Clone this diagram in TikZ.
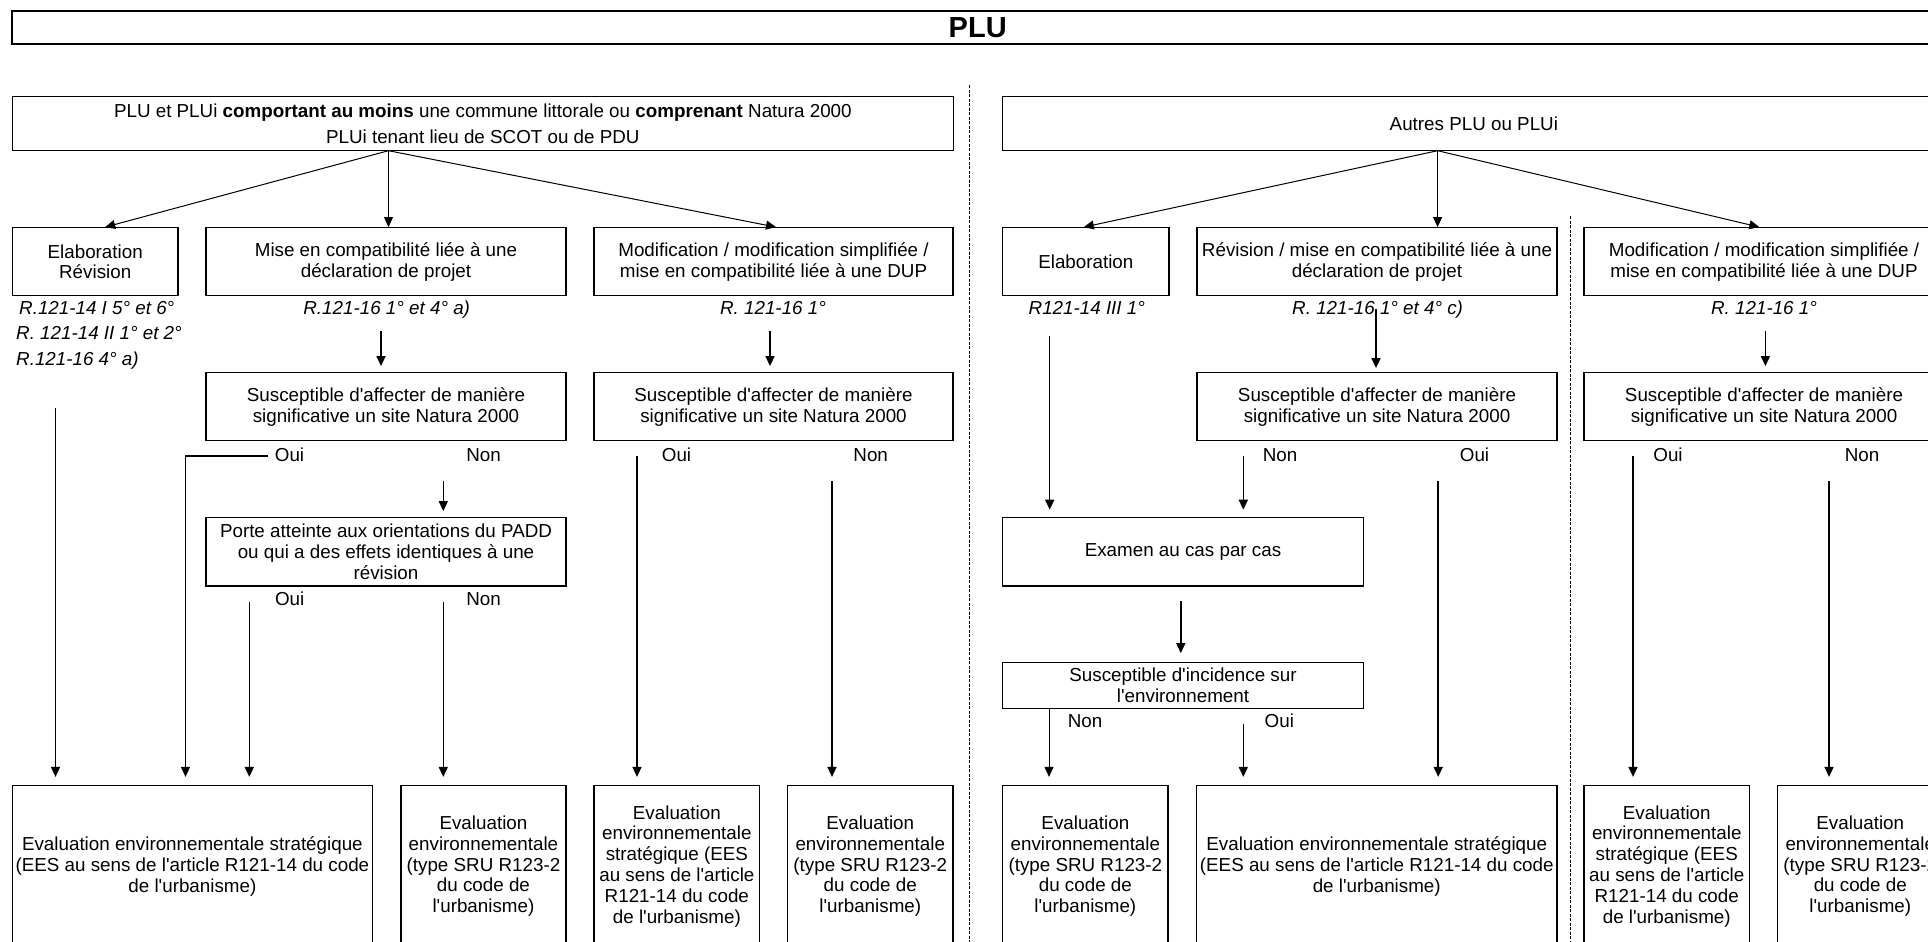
\documentclass[tikz,border=0pt]{standalone}
\usepackage{fontspec}
\newfontfamily\arialf{Liberation Sans}
\usetikzlibrary{arrows.meta}
\begin{document}
\begin{tikzpicture}[x=1pt,y=-1pt,
  every node/.style={font=\arialf\fontsize{18.8}{20.8}\selectfont, inner sep=0pt},
  bx/.style={draw, line width=1.2pt, align=center},
  lbl/.style={anchor=base},
  refl/.style={anchor=base, font=\arialf\itshape\fontsize{18.8}{20.8}\selectfont},
  arr/.style={line width=1.5pt, -{Triangle[length=10pt,width=9pt]}},
  tarr/.style={line width=1pt, -{Triangle[length=10pt,width=9pt]}},
  sepl/.style={line width=1pt, dash pattern=on 3pt off 1.5pt}
]
\useasboundingbox (0,0) rectangle (1928,942);
\clip (0,0) rectangle (1928,942);
\fill[white] (0,0) rectangle (1928,942);

% title
\node[bx, line width=2pt, minimum width=1930.6pt, minimum height=33.6pt,
      font=\arialf\bfseries\fontsize{29}{30}\selectfont] (title) at (977.7,27.5) {PLU};

% separators
\coordinate (d1t) at (969.3,85);
\coordinate (d1b) at (969.3,950);
\coordinate (d2t) at (1570,216);
\coordinate (d2b) at (1570,950);
\draw[sepl] (d1t) -- (d1b);
\draw[sepl] (d2t) -- (d2b);

% ---------- left part ----------
\node[bx, minimum width=940.9pt, minimum height=54pt] (tl) at (482.85,123.7)
 {PLU et PLUi \textbf{comportant au moins} une commune littorale ou \textbf{comprenant} Natura 2000\\[6pt]PLUi tenant lieu de SCOT ou de PDU};

\node[bx, minimum width=165.6pt, minimum height=68pt] (l1) at (95.2,261.7) {Elaboration\\R\'evision};
\node[bx, minimum width=360pt, minimum height=68pt] (l2) at (386,261.7) {Mise en compatibilit\'e li\'ee \`a une\\d\'eclaration de projet};
\node[bx, minimum width=359pt, minimum height=68pt] (l3) at (773.5,261.7) {Modification / modification simplifi\'ee /\\mise en compatibilit\'e li\'ee \`a une DUP};

\node[refl, anchor=base west] (rl1) at (19,314) {R.121-14 I 5° et 6°};
\node[refl, anchor=base west] (rl2) at (16,339.5) {R. 121-14 II 1° et 2°};
\node[refl, anchor=base west] (rl3) at (16,365) {R.121-16 4° a)};
\node[refl] (rl4) at (386.7,314) {R.121-16 1° et 4° a)};
\node[refl] (rl5) at (773,314) {R. 121-16 1°};

\node[bx, minimum width=360pt, minimum height=68pt] (l2s) at (386,406.7) {Susceptible d'affecter de mani\`ere\\significative un site Natura 2000};
\node[bx, minimum width=359pt, minimum height=68pt] (l3s) at (773.5,406.7) {Susceptible d'affecter de mani\`ere\\significative un site Natura 2000};

\node[lbl] (lo1) at (289.5,461) {Oui};
\node[lbl] (ln1) at (483.5,461) {Non};
\node[lbl] (lo2) at (676.5,461) {Oui};
\node[lbl] (ln2) at (870.7,461) {Non};

\node[bx, minimum width=360pt, minimum height=68.7pt] (porte) at (386,551.65)
 {Porte atteinte aux orientations du PADD\\ou qui a des effets identiques \`a une\\r\'evision};
\node[lbl] (lo3) at (289.7,605.7) {Oui};
\node[lbl] (ln3) at (483.5,605.7) {Non};

\node[bx, minimum width=360pt, minimum height=161.5pt] (b1) at (192.4,866.25)
 {Evaluation environnementale strat\'egique\\(EES au sens de l'article R121-14 du code\\de l'urbanisme)};
\node[bx, minimum width=165pt, minimum height=161.5pt] (b2) at (483.45,866.25)
 {Evaluation\\environnementale\\(type SRU R123-2\\du code de\\l'urbanisme)};
\node[bx, minimum width=165.7pt, minimum height=161.5pt] (b3) at (676.85,866.25)
 {Evaluation\\environnementale\\strat\'egique (EES\\au sens de l'article\\R121-14 du code\\de l'urbanisme)};
\node[bx, minimum width=165.5pt, minimum height=161.5pt] (b4) at (870.25,866.25)
 {Evaluation\\environnementale\\(type SRU R123-2\\du code de\\l'urbanisme)};

% left connectors
\coordinate (tlo) at (388.5,150.7);
\draw[tarr] (tlo) -- ([xshift=10pt]l1.north);
\draw[tarr] (tlo) -- (tlo |- l2.north);
\draw[tarr] (tlo) -- ([xshift=2.5pt]l3.north);

\coordinate (a1s) at (381,331);
\draw[arr, shorten >=6pt] (a1s) -- (a1s |- l2s.north);
\coordinate (a3s) at (770,331);
\draw[arr, shorten >=6pt] (a3s) -- (a3s |- l3s.north);

\coordinate (e1) at (55.5,408.3);
\draw[arr, shorten >=8pt] (e1) -- (e1 |- b1.north);
\coordinate (o1) at (268.3,456);
\coordinate (o1c) at (185.5,456);
\draw[arr, shorten >=8pt] (o1) -- (o1c) -- (o1c |- b1.north);
\coordinate (n1) at (443.3,481);
\draw[arr, shorten >=5.6pt] (n1) -- (n1 |- porte.north);
\coordinate (po) at (249.3,601.7);
\draw[arr, shorten >=8pt] (po) -- (po |- b1.north);
\coordinate (pn) at (443.3,601.7);
\draw[arr, shorten >=8pt] (pn) -- (pn |- b2.north);
\coordinate (o3) at (637,456);
\draw[arr, shorten >=8pt] (o3) -- (o3 |- b3.north);
\coordinate (n3) at (832,481);
\draw[arr, shorten >=8pt] (n3) -- (n3 |- b4.north);

% ---------- right part ----------
\node[bx, minimum width=942.3pt, minimum height=54pt] (tr) at (1473.85,123.7) {Autres PLU ou PLUi};

\node[bx, minimum width=166.3pt, minimum height=68pt] (r1) at (1085.85,261.7) {Elaboration};
\node[bx, minimum width=360pt, minimum height=68pt] (r2) at (1377,261.7) {R\'evision / mise en compatibilit\'e li\'ee \`a une\\d\'eclaration de projet};
\node[bx, minimum width=360pt, minimum height=68pt] (r3) at (1764,261.7) {Modification / modification simplifi\'ee /\\mise en compatibilit\'e li\'ee \`a une DUP};

\node[refl] (rr1) at (1086.8,314) {R121-14 III 1°};
\node[refl] (rr2) at (1377.6,314) {R. 121-16 1° et 4° c)};
\node[refl] (rr3) at (1764,314) {R. 121-16 1°};

\node[bx, minimum width=360pt, minimum height=68pt] (r2s) at (1377,406.7) {Susceptible d'affecter de mani\`ere\\significative un site Natura 2000};
\node[bx, minimum width=360pt, minimum height=68pt] (r3s) at (1764,406.7) {Susceptible d'affecter de mani\`ere\\significative un site Natura 2000};

\node[lbl] (rn1) at (1280,461) {Non};
\node[lbl] (ro1) at (1474.5,461) {Oui};
\node[lbl] (ro2) at (1668,461) {Oui};
\node[lbl] (rn2) at (1862,461) {Non};

\node[bx, minimum width=360.6pt, minimum height=68.7pt] (exam) at (1183,551.65) {Examen au cas par cas};
\node[bx, minimum width=360.6pt, minimum height=45.6pt] (inc) at (1183,685.5) {Susceptible d'incidence sur\\l'environnement};
\node[lbl] (rn3) at (1085,727.3) {Non};
\node[lbl] (ro3) at (1279.3,727.3) {Oui};

\node[bx, minimum width=165.3pt, minimum height=161.5pt] (b5) at (1085.35,866.25)
 {Evaluation\\environnementale\\(type SRU R123-2\\du code de\\l'urbanisme)};
\node[bx, minimum width=360.5pt, minimum height=161.5pt] (b6) at (1376.75,866.25)
 {Evaluation environnementale strat\'egique\\(EES au sens de l'article R121-14 du code\\de l'urbanisme)};
\node[bx, minimum width=165.5pt, minimum height=161.5pt] (b7) at (1666.75,866.25)
 {Evaluation\\environnementale\\strat\'egique (EES\\au sens de l'article\\R121-14 du code\\de l'urbanisme)};
\node[bx, minimum width=165.5pt, minimum height=161.5pt] (b8) at (1860.25,866.25)
 {Evaluation\\environnementale\\(type SRU R123-2\\du code de\\l'urbanisme)};

% right connectors
\coordinate (tro) at (1437.6,150.7);
\draw[tarr] (tro) -- ([xshift=-2pt]r1.north);
\draw[tarr] (tro) -- (tro |- r2.north);
\draw[tarr] (tro) -- ([xshift=-4.7pt]r3.north);

\coordinate (a2s) at (1376,309);
\draw[arr, shorten >=4pt] (a2s) -- (a2s |- r2s.north);
\coordinate (a4s) at (1765.4,331);
\draw[arr, shorten >=6pt] (a4s) -- (a4s |- r3s.north);

\coordinate (e2) at (1049.7,336);
\draw[arr, shorten >=7pt] (e2) -- (e2 |- exam.north);
\coordinate (n4) at (1243.3,456);
\draw[arr, shorten >=7pt] (n4) -- (n4 |- exam.north);
\coordinate (o4) at (1438.2,481);
\draw[arr, shorten >=8pt] (o4) -- (o4 |- b6.north);
\coordinate (ex) at (1180.8,601);
\draw[arr, shorten >=9pt] (ex) -- (ex |- inc.north);
\coordinate (inn) at (1049,708.3);
\draw[tarr, shorten >=8pt] (inn) -- (inn |- b5.north);
\coordinate (ino) at (1243.3,724);
\draw[arr, shorten >=8pt] (ino) -- (ino |- b6.north);
\coordinate (o5) at (1633,456);
\draw[arr, shorten >=8pt] (o5) -- (o5 |- b7.north);
\coordinate (n5) at (1829,481);
\draw[arr, shorten >=8pt] (n5) -- (n5 |- b8.north);
\end{tikzpicture}
\end{document}
